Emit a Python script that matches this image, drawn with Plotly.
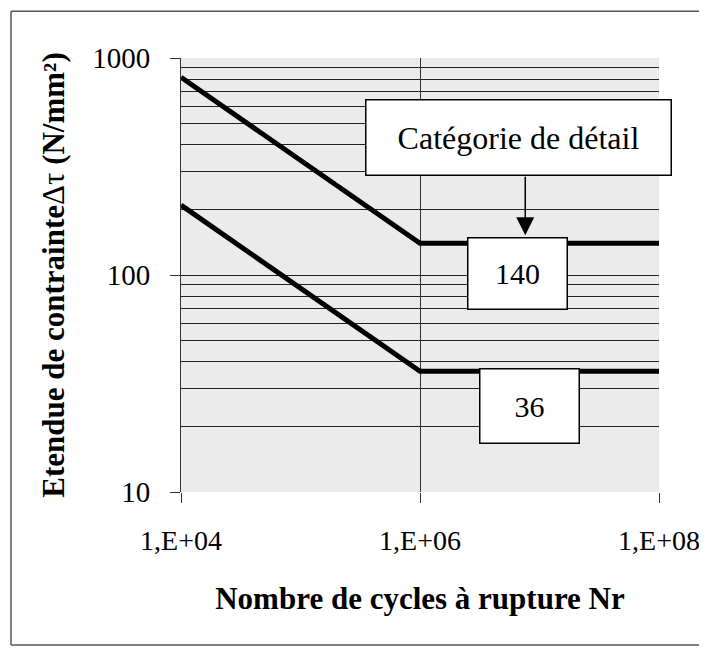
import math
import plotly.graph_objects as go

# ---- data ----
cycles = [1e4, 1e6, 1e8]
cat_140 = [815, 140, 140]
cat_36 = [210, 36, 36]
detail_values = [140, 36]
detail_labels = ["140", "36"]
x_tickvals = [1e4, 1e6, 1e8]
x_ticktext = ["1,E+04", "1,E+06", "1,E+08"]
y_tickvals = [10, 100, 1000]
y_ticktext = ["10", "100", "1000"]
y_minor = [20, 30, 40, 50, 60, 70, 80, 90, 200, 300, 400, 500, 600, 700, 800, 900]

FONT = "Liberation Serif, Times New Roman, serif"

fig = go.Figure()
for ys in (cat_140, cat_36):
    fig.add_trace(go.Scatter(x=cycles, y=ys, mode="lines",
                             line=dict(color="black", width=5),
                             showlegend=False, hoverinfo="skip"))

fig.update_layout(
    width=691, height=640,
    margin=dict(l=173, r=40, t=50, b=156),
    paper_bgcolor="white",
    plot_bgcolor="#ebebeb",
    font=dict(family=FONT, size=29, color="black"),
    xaxis=dict(type="log", range=[4, 8], tickvals=x_tickvals, ticktext=x_ticktext,
               tickfont=dict(size=28), ticklabeloverflow="allow",
               showgrid=True, gridcolor="#333", gridwidth=1,
               ticks="outside", ticklen=10, tickcolor="#333", tickwidth=1,
               showline=False, zeroline=False, automargin=False,
               ticklabelstandoff=13,
               title=dict(text="<b>Nombre de cycles à rupture Nr</b>",
                          font=dict(size=31), standoff=32)),
    yaxis=dict(type="log", range=[1, 3], tickvals=y_tickvals, ticktext=y_ticktext,
               showgrid=True, gridcolor="#222", gridwidth=1,
               ticks="outside", ticklen=10, tickcolor="#333", tickwidth=1,
               showline=True, linecolor="#333", linewidth=1, mirror=False,
               zeroline=False, ticklabelstandoff=14, automargin=False,
               minor=dict(tickvals=y_minor, showgrid=True, gridcolor="#222",
                          gridwidth=1, ticks=""),
               title=dict(text="<b>Etendue de contrainte</b>Δτ<b> (N/mm²)</b>",
                          font=dict(size=31), standoff=18)),
)

# outer frame (left, top, bottom)
frame = dict(color="#555", width=1.5)
fig.add_shape(type="line", xref="paper", yref="paper", x0=-0.3556, x1=-0.3556,
              y0=-0.3525, y1=1.108, line=frame)
fig.add_shape(type="line", xref="paper", yref="paper", x0=-0.3556, x1=1.1,
              y0=1.108, y1=1.108, line=frame)
fig.add_shape(type="line", xref="paper", yref="paper", x0=-0.3556, x1=1.1,
              y0=-0.3525, y1=-0.3525, line=frame)

# "Catégorie de détail" box
fig.add_annotation(xref="paper", yref="paper", x=0.707, y=0.816,
                   xanchor="center", yanchor="middle",
                   text="Catégorie de détail", showarrow=False,
                   font=dict(size=32), bgcolor="white", bordercolor="black",
                   borderwidth=1.5, borderpad=0, width=304, height=74)
# arrow
fig.add_annotation(x=math.log10(7.6e6), y=math.log10(detail_values[0]), yshift=8,
                   text="", showarrow=True, arrowhead=2, arrowsize=2.4,
                   arrowwidth=1.5, arrowcolor="black", ax=0, ay=-60)

# detail category labels
label_x = [6.6e6, 8.2e6]
label_h = [70, 73]
label_shift = [6, 3]
for lx, val, lab, h, s in zip(label_x, detail_values, detail_labels, label_h, label_shift):
    fig.add_annotation(x=math.log10(lx), y=math.log10(val), xanchor="center",
                       yanchor="top", yshift=s,
                       text=lab, showarrow=False, font=dict(size=30),
                       bgcolor="white", bordercolor="black", borderwidth=1.5,
                       borderpad=0, width=98, height=h)

fig.write_html("out.html")
